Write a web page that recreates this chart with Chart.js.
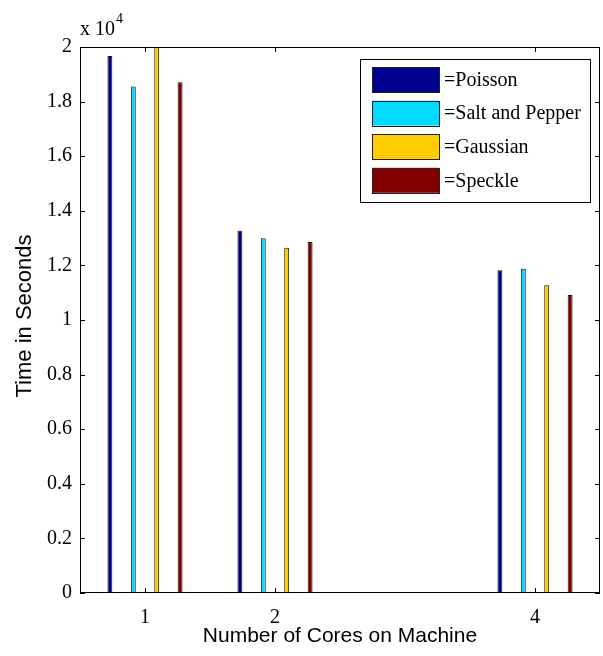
<!DOCTYPE html>
<html>
<head>
<meta charset="utf-8">
<script src="https://cdn.jsdelivr.net/npm/chart.js@4/dist/chart.umd.min.js"></script>
<style>
html,body{margin:0;padding:0;background:#fff;}
#wrap{width:603px;height:656px;}
</style>
</head>
<body>
<div id="wrap"><canvas id="c" width="603" height="656"></canvas></div>
<script>
// ---- data ----
const cores = [1, 2, 4];
const seriesNames = ['Poisson', 'Salt and Pepper', 'Gaussian', 'Speckle'];
const poisson = [19670, 13270, 11820];
const saltPepper = [18550, 12990, 11880];
const gaussian = [20200, 12650, 11270];
const speckle = [18710, 12860, 10920];
const yTicks = [0, 2000, 4000, 6000, 8000, 10000, 12000, 14000, 16000, 18000, 20000];
const xTitle = 'Number of Cores on Machine';
const yTitle = 'Time in Seconds';

const colors = ['#00008F', '#00DCFF', '#FFCC00', '#800000'];
const seriesVals = [poisson, saltPepper, gaussian, speckle];

const datasets = seriesVals.map((vals, k) => ({
  label: seriesNames[k],
  data: cores.map((c, i) => ({x: c, y: vals[i]})),
  backgroundColor: colors[k],
  borderColor: '#1a1a1a',
  borderWidth: 1,
  borderSkipped: false,
  categoryPercentage: 0.72,
  barPercentage: 0.21,
  clip: 0
}));

const serif = 'Liberation Serif, Times New Roman, serif';
const sans = 'Liberation Sans, Arial, sans-serif';

const decor = {
  id: 'decor',
  afterDraw(chart) {
    const ctx = chart.ctx;
    const a = chart.chartArea;
    const xs = chart.scales.x, ys = chart.scales.y;
    ctx.save();
    ctx.strokeStyle = '#000';
    ctx.lineWidth = 1;
    // ticks inward
    ctx.beginPath();
    yTicks.forEach(v => {
      const y = Math.round(ys.getPixelForValue(v)) + 0.5;
      ctx.moveTo(a.left, y); ctx.lineTo(a.left + 5, y);
      ctx.moveTo(a.right, y); ctx.lineTo(a.right - 5, y);
    });
    cores.forEach(v => {
      const x = Math.round(xs.getPixelForValue(v)) + 0.5;
      ctx.moveTo(x, a.bottom); ctx.lineTo(x, a.bottom - 5);
      ctx.moveTo(x, a.top); ctx.lineTo(x, a.top + 5);
    });
    ctx.stroke();
    // box
    ctx.strokeRect(Math.round(a.left) + 0.5, Math.round(a.top) + 0.5,
                   Math.round(a.right - a.left) - 1, Math.round(a.bottom - a.top) - 1);
    // exponent label
    ctx.fillStyle = '#000';
    ctx.font = '20px ' + serif;
    ctx.textAlign = 'left';
    ctx.textBaseline = 'alphabetic';
    ctx.fillText('x 10', a.left, a.top - 12);
    const w = ctx.measureText('x 10').width;
    ctx.font = '14px ' + serif;
    ctx.fillText('4', a.left + w + 1, a.top - 24);
    // axis titles
    ctx.font = '21px ' + sans;
    ctx.textAlign = 'center';
    ctx.textBaseline = 'middle';
    ctx.fillText(xTitle, (a.left + a.right) / 2, 636);
    ctx.save();
    ctx.translate(25, 316);
    ctx.rotate(-Math.PI / 2);
    ctx.font = '22px ' + sans;
    ctx.fillText(yTitle, 0, 0);
    ctx.restore();
    // legend
    const lx = 360, ly = 59, lw = 230, lh = 143;
    ctx.fillStyle = '#fff';
    ctx.fillRect(lx, ly, lw, lh);
    ctx.strokeStyle = '#000';
    ctx.strokeRect(lx + 0.5, ly + 0.5, lw, lh);
    ctx.font = '20px ' + serif;
    ctx.textAlign = 'left';
    ctx.textBaseline = 'middle';
    chart.data.datasets.forEach((ds, k) => {
      const sy = 67 + k * 33.6;
      ctx.fillStyle = ds.backgroundColor;
      ctx.fillRect(372, sy, 67, 25);
      ctx.strokeStyle = '#222';
      ctx.strokeRect(372.5, Math.round(sy) + 0.5, 67, 25);
      ctx.fillStyle = '#000';
      ctx.fillText('=' + ds.label, 444, sy + 13.5);
    });
    ctx.restore();
  }
};

new Chart(document.getElementById('c'), {
  type: 'bar',
  data: { datasets },
  options: {
    responsive: false,
    animation: false,
    devicePixelRatio: 1,
    layout: { padding: { top: 47, right: 3, left: 0, bottom: 0 } },
    plugins: { legend: { display: false }, tooltip: { enabled: false } },
    scales: {
      x: {
        type: 'linear',
        min: 0.5, max: 4.5,
        offset: false,
        grid: { display: false, drawTicks: false },
        border: { display: false },
        afterBuildTicks: s => { s.ticks = cores.map(v => ({ value: v })); },
        afterFit: s => { s.height = 63; },
        ticks: {
          color: '#000',
          padding: 13,
          font: { family: serif, size: 20 },
          callback: v => String(v)
        }
      },
      y: {
        min: 0, max: 20000,
        grid: { display: false, drawTicks: false },
        border: { display: false },
        afterBuildTicks: s => { s.ticks = yTicks.map(v => ({ value: v })); },
        afterFit: s => { s.width = 80; },
        ticks: {
          color: '#000',
          padding: 8,
          font: { family: serif, size: 20 },
          callback: v => String(Number((v / 10000).toFixed(1)))
        }
      }
    }
  },
  plugins: [decor]
});
</script>
</body>
</html>
